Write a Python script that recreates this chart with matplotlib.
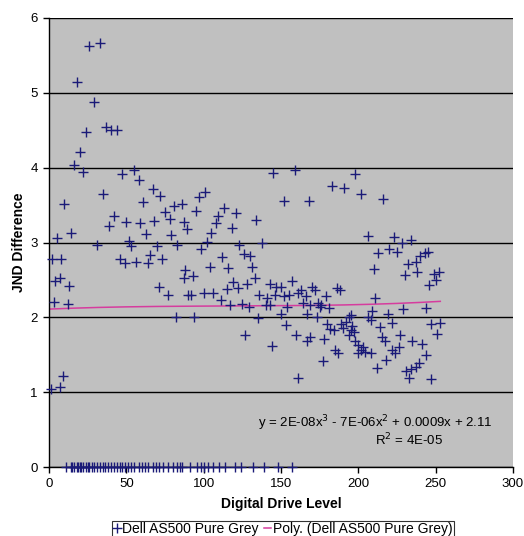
import numpy as np
import matplotlib.pyplot as plt

plt.rcParams['font.family'] = ['Liberation Sans', 'DejaVu Sans']

# Digital drive levels and measured JND differences (Dell AS500, pure grey)
levels = [26, 33, 18, 29, 24, 37, 40, 44, 20, 16, 22, 47, 55, 58, 35, 10, 67, 72, 61, 75,
          42, 39, 50, 59, 68, 63, 14, 5, 31, 52, 53, 70, 65, 2, 8, 46, 49, 56, 64, 73,
          7, 4, 13, 71, 3, 12, 77, 82, 9, 7, 1,
          79, 83, 88, 87, 90, 89, 87, 78, 81, 86,
          145, 152, 134, 138, 101, 97, 95, 113, 121, 109, 108, 118, 105, 102, 98, 123, 126, 130,
          112, 104, 116, 131, 93, 133, 119, 122, 115, 128, 143, 147, 150, 92, 100, 106, 136, 141,
          111, 117, 125, 129, 140, 143, 146, 152, 154, 94, 135, 150, 153, 127, 144, 161, 160, 159,
          198, 183, 191, 202, 216, 168, 206, 223, 228, 234, 213, 220, 225, 240, 243, 245, 237,
          232, 210, 238, 230, 249, 252, 250, 246, 157, 163, 170, 172, 186, 188, 179, 155, 161,
          166, 211,
          164, 169, 174, 175, 176, 181, 167, 173, 194, 195, 206, 208, 209, 219, 222, 229, 244,
          180, 182, 184, 189, 190, 192, 195, 197, 194, 196, 214, 215, 217, 227, 226, 222, 224,
          218, 212, 167, 169, 178, 185, 187, 198, 200, 202, 204, 208, 200, 203, 177, 235, 241,
          244, 247, 253, 251, 239, 237, 234, 231, 233, 247]
jnd = [5.63, 5.66, 5.14, 4.88, 4.47, 4.54, 4.50, 4.51, 4.21, 4.03, 3.94, 3.92, 3.97, 3.83, 3.65, 3.51, 3.71, 3.62, 3.54, 3.41,
       3.36, 3.22, 3.28, 3.26, 3.29, 3.12, 3.13, 3.06, 2.96, 3.02, 2.95, 2.95, 2.83, 2.78, 2.78, 2.78, 2.73, 2.74, 2.73, 2.78,
       2.53, 2.48, 2.42, 2.40, 2.20, 2.18, 2.30, 2.00, 1.21, 1.07, 1.04,
       3.10, 2.97, 2.63, 2.53, 2.30, 3.18, 3.28, 3.32, 3.49, 3.52,
       3.93, 3.55, 3.30, 3.00, 3.68, 3.61, 3.42, 3.46, 3.40, 3.35, 3.26, 3.20, 3.13, 3.01, 2.91, 2.96, 2.85, 2.82,
       2.81, 2.67, 2.66, 2.67, 2.55, 2.53, 2.47, 2.39, 2.38, 2.45, 2.45, 2.41, 2.41, 2.30, 2.32, 2.33, 2.30, 2.26,
       2.23, 2.17, 2.18, 2.14, 2.17, 2.17, 2.30, 2.29, 2.14, 2.00, 1.99, 2.04, 1.90, 1.77, 1.62, 1.19, 1.77, 3.97,
       3.92, 3.75, 3.73, 3.65, 3.58, 3.55, 3.09, 3.07, 2.99, 3.03, 2.86, 2.91, 2.87, 2.82, 2.86, 2.87, 2.74,
       2.71, 2.64, 2.61, 2.56, 2.58, 2.60, 2.50, 2.43, 2.49, 2.37, 2.40, 2.36, 2.39, 2.37, 2.29, 2.30, 2.32,
       2.28, 2.26,
       2.19, 2.17, 2.19, 2.14, 2.17, 2.12, 2.04, 2.00, 2.01, 2.03, 2.00, 1.97, 2.08, 2.05, 1.92, 2.11, 2.13,
       1.91, 1.85, 1.83, 1.91, 1.86, 1.94, 1.83, 1.81, 1.76, 1.88, 1.87, 1.74, 1.68, 1.76, 1.61, 1.56, 1.52,
       1.43, 1.32, 1.68, 1.74, 1.71, 1.56, 1.53, 1.68, 1.63, 1.57, 1.54, 1.52, 1.53, 1.61, 1.41, 1.68, 1.65,
       1.49, 1.91, 1.92, 1.78, 1.39, 1.33, 1.31, 1.28, 1.19, 1.17]

# levels where the difference came out as zero
zero_levels = [11, 14, 15, 16, 18, 19, 20, 21, 22, 24, 25, 26, 28, 29, 31, 33, 35, 36, 38, 40,
               42, 44, 46, 47, 49, 51, 53, 55, 58, 60, 62, 64, 67, 69, 71, 74, 77, 80, 83, 85,
               86, 91, 96, 98, 100, 103, 106, 110, 114, 120, 124, 132, 139, 148, 157]

# polynomial trendline (Excel coefficients)
coef = [2e-08, -7e-06, 0.0009, 2.11]

x_all = levels + zero_levels
y_all = jnd + [0] * len(zero_levels)

fig = plt.figure(figsize=(5.24, 5.36), dpi=100)
ax = fig.add_axes([49 / 524, 69 / 536, 464 / 524, 449 / 536])
ax.set_facecolor('#C0C0C0')

navy = '#1A1A78'
pink = '#D63C9E'

ax.plot(x_all, y_all, linestyle='none', marker='+', color=navy, ms=7, mew=1.0,
        clip_on=False, zorder=3, label='Dell AS500 Pure Grey')

xt = np.linspace(0, max(levels), 200)
ax.plot(xt, np.polyval(coef, xt), color=pink, lw=1.1, zorder=2,
        label='Poly. (Dell AS500 Pure Grey)')

ax.set_xlim(0, 300)
ax.set_ylim(0, 6)
ax.set_xticks(range(0, 301, 50))
ax.set_yticks(range(0, 7))
ax.yaxis.grid(True, color='black', lw=1)
ax.set_axisbelow(True)
for s in ['top', 'right']:
    ax.spines[s].set_visible(False)
for s in ['left', 'bottom']:
    ax.spines[s].set_linewidth(1)
ax.tick_params(direction='out', length=4, width=1, labelsize=9.5, pad=4)

ax.set_xlabel('Digital Drive Level', fontsize=10, fontweight='bold', labelpad=5)
ax.set_ylabel('JND Difference', fontsize=10, fontweight='bold', labelpad=3)

ax.text(211, 0.59, 'y = 2E-08x$^3$ - 7E-06x$^2$ + 0.0009x + 2.11', ha='center', va='center', fontsize=9.5)
ax.text(233, 0.36, 'R$^2$ = 4E-05', ha='center', va='center', fontsize=9.5)

leg = fig.legend(loc='center', bbox_to_anchor=(283 / 524, 1 - 529 / 536), ncol=2,
                 fontsize=10, frameon=True, fancybox=False, edgecolor='black',
                 handlelength=0.5, handletextpad=0.1, columnspacing=0.4, borderpad=0.1,
                 borderaxespad=0)
leg.get_frame().set_linewidth(0.8)

plt.savefig('out.png', dpi=100)
